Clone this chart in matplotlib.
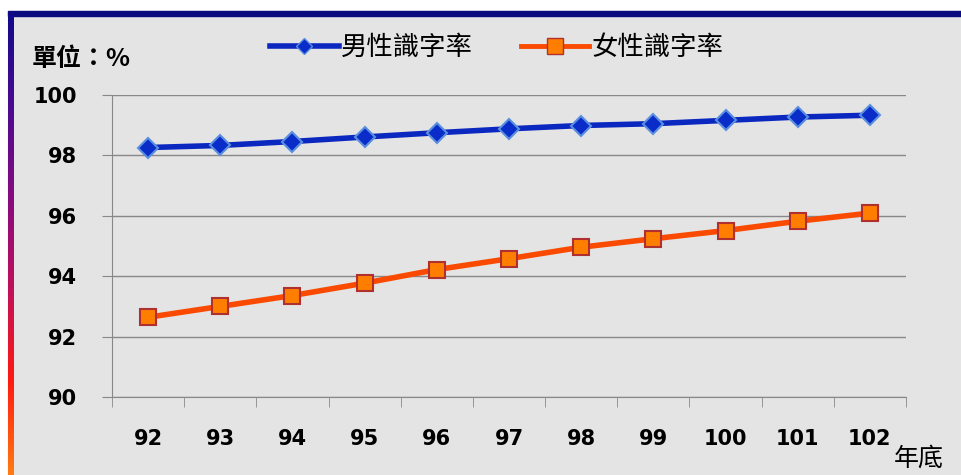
import numpy as np
import matplotlib.pyplot as plt
from matplotlib.colors import LinearSegmentedColormap
from matplotlib.lines import Line2D

plt.rcParams['font.family'] = ['DejaVu Sans', 'Noto Sans CJK TC']

years = ['92', '93', '94', '95', '96', '97', '98', '99', '100', '101', '102']
male = [98.26, 98.33, 98.46, 98.61, 98.75, 98.88, 98.99, 99.05, 99.16, 99.27, 99.33]
female = [92.64, 93.00, 93.36, 93.77, 94.22, 94.58, 94.96, 95.24, 95.51, 95.82, 96.09]
yticks = [90, 92, 94, 96, 98, 100]

W, H = 961, 475
fig = plt.figure(figsize=(W / 100, H / 100), dpi=100)

# background: grey panel, navy top band, gradient left band
bg = fig.add_axes([0, 0, 1, 1])
bg.set_xlim(0, W)
bg.set_ylim(H, 0)
bg.axis('off')
bg.add_patch(plt.Rectangle((8, 11), W - 8, H - 11, color='#e4e4e4', zorder=0))
bg.add_patch(plt.Rectangle((8, 11), W - 8, 5, color='#0c0c80', zorder=1))
grad = LinearSegmentedColormap.from_list(
    'edge', ['#100a88', '#4a0a90', '#860a80', '#c0105a', '#ff1a10', '#ff7a10'])
bg.imshow(np.linspace(0, 1, 200).reshape(-1, 1), cmap=grad, aspect='auto',
          extent=(8, 14, H, 11), zorder=2)

ax = fig.add_axes([112 / W, 1 - 397 / H, (906 - 112) / W, (397 - 95) / H])
ax.patch.set_alpha(0)
x = np.arange(len(years))

ax.plot(x, male, color='#0a28c0', lw=4, solid_capstyle='round', zorder=3,
        marker='D', ms=10, mfc='#0a2cc8', mec='#5a8ee0', mew=1.5)
ax.plot(x, female, color='#fa4a00', lw=4, zorder=3,
        marker='s', ms=12, mfc='#ff7e00', mec='#b03030', mew=1.5)

ax.set_xlim(-0.5, len(years) - 0.5)
ax.set_ylim(90, 100)
ax.set_yticks(yticks)
ax.set_yticklabels([str(v) for v in yticks], fontsize=15, fontweight='bold')
ax.set_xticks(x)
ax.set_xticklabels(years, fontsize=15, fontweight='bold')
ax.set_xticks(np.arange(-0.5, len(years)), minor=True)
ax.tick_params(axis='x', which='major', length=0, pad=23)
ax.tick_params(axis='x', which='minor', length=7, color='#888888', direction='out')
ax.tick_params(axis='y', length=7, color='#888888', pad=18)
ax.grid(axis='y', color='#888888', lw=1)
ax.set_axisbelow(True)
for s in ['top', 'right']:
    ax.spines[s].set_visible(False)
for s in ['left', 'bottom']:
    ax.spines[s].set_color('#888888')

handles = [
    Line2D([], [], color='#0a28c0', lw=4, marker='D', ms=8, mfc='#0a2cc8', mec='#5a8ee0'),
    Line2D([], [], color='#fa4a00', lw=3.5, marker='s', ms=11,
           mfc='#ff7e00', mec='#b03030'),
]
fig.legend(handles, ['男性識字率', '女性識字率'], loc='center', bbox_to_anchor=(0.517, 0.9),
           ncol=2, frameon=False, prop={'family': 'Noto Sans CJK TC', 'size': 19},
           handlelength=2.6, columnspacing=1.8, handletextpad=0.1)

fig.text(32 / W, 1 - 59 / H, '單位：%', fontsize=18, fontweight='bold',
         family=['Noto Sans CJK TC', 'DejaVu Sans'], va='center', ha='left')
fig.text(919 / W, 1 - 459 / H, '年底', fontsize=18, family=['Noto Sans CJK TC'],
         va='center', ha='center')

fig.savefig('out.png', dpi=100)
